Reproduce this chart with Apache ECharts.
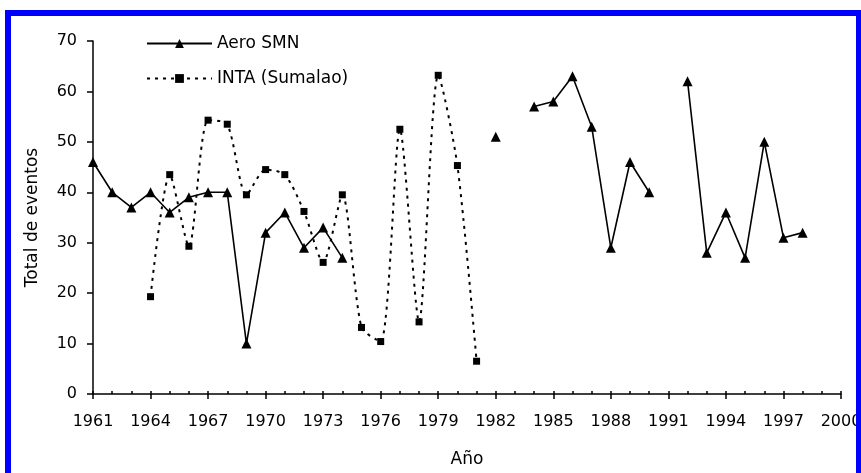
<!DOCTYPE html>
<html>
<head>
<meta charset="utf-8">
<script src="https://cdn.jsdelivr.net/npm/echarts@6/dist/echarts.min.js"></script>
<style>
html,body{margin:0;padding:0;background:#fff;}
#chart{width:861px;height:473px;}
</style>
</head>
<body>
<div id="chart"></div>
<script>
const years = ['1961','1962','1963','1964','1965','1966','1967','1968','1969','1970',
  '1971','1972','1973','1974','1975','1976','1977','1978','1979','1980',
  '1981','1982','1983','1984','1985','1986','1987','1988','1989','1990',
  '1991','1992','1993','1994','1995','1996','1997','1998','1999','2000'];
const aeroSMN = [46,40,37,40,36,39,40,40,10,32,
  36,29,33,27,null,null,null,null,null,null,
  null,51,null,57,58,63,53,29,46,40,
  null,62,28,36,27,50,31,32,null,null];
const intaSumalao = [null,null,null,19.3,43.5,29.3,54.3,53.5,39.5,44.5,
  43.5,36.2,26.1,39.5,13.2,10.4,52.5,14.3,63.2,45.3,
  6.5,null,null,null,null,null,null,null,null,null,
  null,null,null,null,null,null,null,null,null,null];
const seriesNames = ['Aero SMN','INTA (Sumalao)'];
const xTitle = 'Año';
const yTitle = 'Total de eventos';

const FONT = 'DejaVu Sans';
const chart = echarts.init(document.getElementById('chart'));
chart.setOption({
  backgroundColor: '#ffffff',
  animation: false,
  graphic: [{
    type: 'rect',
    shape: {x: 8, y: 13, width: 851, height: 480},
    style: {fill: 'none', stroke: '#0000ff', lineWidth: 6},
    silent: true, z: 100
  }],
  legend: {
    orient: 'vertical',
    left: 141, top: 30, padding: 5,
    itemWidth: 65, itemHeight: 11, itemGap: 18,
    textStyle: {fontFamily: FONT, fontSize: 17, color: '#000'},
    data: seriesNames
  },
  grid: {left: 93, right: 20, top: 41, bottom: 79, containLabel: false, outerBoundsMode: 'none'},
  xAxis: [{
    type: 'category', data: years, boundaryGap: false, position: 'bottom',
    name: xTitle, nameLocation: 'middle', nameGap: 57,
    nameTextStyle: {fontFamily: FONT, fontSize: 17, color: '#000'},
    axisLine: {lineStyle: {color: '#000', width: 1.5}},
    axisTick: {interval: 2, length: 5, lineStyle: {color: '#000', width: 1.5}},
    axisLabel: {interval: 2, fontFamily: FONT, fontSize: 16, color: '#000', margin: 20},
    splitLine: {show: false}
  }, {
    type: 'category', data: years, boundaryGap: false, position: 'bottom',
    axisLine: {show: false},
    axisTick: {interval: 0, inside: true, length: 3, lineStyle: {color: '#000', width: 1.5}},
    axisLabel: {show: false},
    splitLine: {show: false}
  }],
  yAxis: {
    type: 'value', min: 0, max: 70, interval: 10,
    name: yTitle, nameLocation: 'middle', nameGap: 52,
    nameTextStyle: {fontFamily: FONT, fontSize: 17, color: '#000'},
    axisLine: {show: true, lineStyle: {color: '#000', width: 1.5}},
    axisTick: {show: true, length: 6, lineStyle: {color: '#000', width: 1.5}},
    axisLabel: {fontFamily: FONT, fontSize: 16, color: '#000', margin: 16},
    splitLine: {show: false}
  },
  series: [{
    name: seriesNames[0], type: 'line', xAxisIndex: 0, data: aeroSMN,
    connectNulls: false, showSymbol: true, showAllSymbol: true,
    symbol: 'triangle', symbolSize: 10,
    lineStyle: {color: '#000', width: 1.6},
    itemStyle: {color: '#000'}
  }, {
    name: seriesNames[1], type: 'line', xAxisIndex: 0, data: intaSumalao,
    connectNulls: false, showSymbol: true, showAllSymbol: true,
    symbol: 'rect', symbolSize: 7, smooth: 0.25,
    lineStyle: {color: '#000', width: 2, type: [3, 5]},
    itemStyle: {color: '#000'}
  }]
});
</script>
</body>
</html>
